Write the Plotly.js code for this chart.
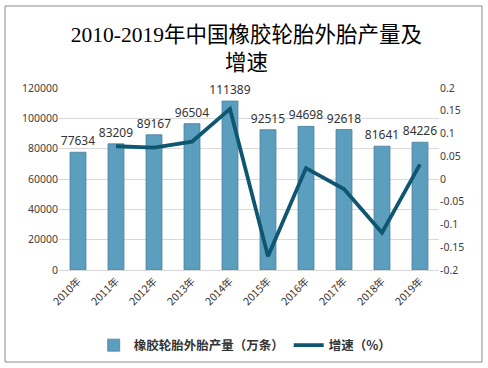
<!DOCTYPE html>
<html>
<head>
<meta charset="utf-8">
<script src="https://cdn.plot.ly/plotly-3.0.1.min.js"></script>
<style>html,body{margin:0;padding:0;background:#fff;}#chart{width:488px;height:368px;}</style>
</head>
<body>
<div id="chart"></div>
<script>
const years = ["2010年","2011年","2012年","2013年","2014年","2015年","2016年","2017年","2018年","2019年"];
const output = [77634, 83209, 89167, 96504, 111389, 92515, 94698, 92618, 81641, 84226];
const growthYears = ["2011年","2012年","2013年","2014年","2015年","2016年","2017年","2018年","2019年"];
const growth = [0.072, 0.069, 0.082, 0.154, -0.170, 0.024, -0.022, -0.118, 0.032];
const rightTickVals = [0.2, 0.15, 0.1, 0.05, 0, -0.05, -0.1, -0.15, -0.2];
const rightTickText = ["0.2","0.15","0.1","0.05","0","-0.05","-0.1","-0.15","-0.2"];

const sans = "Noto Sans, Noto Sans CJK SC, sans-serif";
const cjk = "Noto Sans CJK SC, sans-serif";

const traces = [
  {
    type: "bar",
    name: "橡胶轮胎外胎产量（万条）",
    x: years,
    y: output,
    text: output.map(v => String(v)),
    textposition: "outside",
    constraintext: "none",
    cliponaxis: false,
    textfont: {family: sans, size: 12, color: "#333333"},
    marker: {color: "#5c9ebd", line: {color: "#4a8099", width: 0.8}},
    width: 0.42
  },
  {
    type: "scatter",
    mode: "lines",
    name: "增速（%）",
    x: growthYears,
    y: growth,
    yaxis: "y2",
    line: {color: "#0f5670", width: 3.8}
  }
];

const layout = {
  width: 488, height: 368,
  margin: {l: 59, r: 49, t: 88, b: 98, autoexpand: false},
  paper_bgcolor: "#ffffff",
  plot_bgcolor: "#ffffff",
  showlegend: true,
  title: {
    text: "2010-2019年中国橡胶轮胎外胎产量及<br>增速",
    font: {family: "Liberation Serif, Noto Sans CJK SC, serif", size: 21.5, color: "#000000"},
    x: 0.505, xanchor: "center",
    y: 0.885, yanchor: "middle"
  },
  xaxis: {
    type: "category",
    tickangle: -45,
    tickfont: {family: cjk, size: 10.5, color: "#333333"},
    showline: true, linecolor: "#d9d9d9",
    ticks: "", showgrid: false
  },
  yaxis: {
    range: [0, 120000], dtick: 20000, tickformat: "d",
    tickfont: {family: sans, size: 10.5, color: "#404040"},
    gridcolor: "#d9d9d9", zeroline: false, ticks: "", showline: false
  },
  yaxis2: {
    range: [-0.2, 0.2], overlaying: "y", side: "right",
    tickvals: rightTickVals, ticktext: rightTickText,
    tickfont: {family: sans, size: 10.5, color: "#404040"},
    showgrid: false, zeroline: false, ticks: "", showline: false
  },
  legend: {
    orientation: "h", x: 0.49, xanchor: "center", y: -0.415, yanchor: "middle",
    font: {family: cjk, size: 12.5, color: "#333333", weight: "bold"},
    bgcolor: "rgba(0,0,0,0)"
  },
  shapes: [
    {type: "rect", xref: "paper", yref: "paper",
     x0: -0.142, x1: 1.113, y0: -0.5055, y1: 1.4505,
     line: {color: "#8c8c8c", width: 1}, fillcolor: "rgba(0,0,0,0)", layer: "below"}
  ]
};

Plotly.newPlot("chart", traces, layout, {staticPlot: true, displayModeBar: false});
</script>
</body>
</html>
